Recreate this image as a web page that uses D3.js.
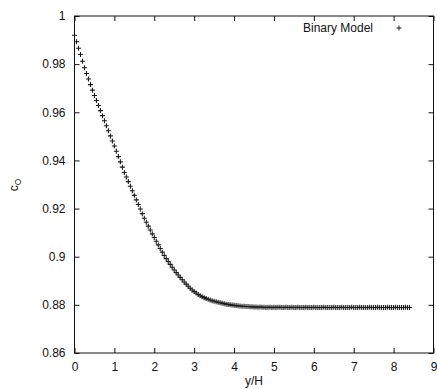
<!DOCTYPE html>
<html>
<head>
<meta charset="utf-8">
<script src="https://cdn.jsdelivr.net/npm/d3@7"></script>
<style>
  body { margin: 0; background: #fff; }
  text { font-family: "Liberation Sans", Arial, sans-serif; fill: #111; }
</style>
</head>
<body>
<div id="chart"></div>
<script>
// sampled profile, step of 0.05 in y/H
var xStep = 0.05;
var cValues = [
  0.9920, 0.9893, 0.9866, 0.9840, 0.9812, 0.9785, 0.9761, 0.9738, 0.9715, 0.9692,
  0.9670, 0.9649, 0.9628, 0.9607, 0.9586, 0.9565, 0.9544, 0.9523, 0.9502, 0.9481,
  0.9460, 0.9438, 0.9416, 0.9394, 0.9372, 0.9350, 0.9331, 0.9312, 0.9293, 0.9274,
  0.9255, 0.9236, 0.9217, 0.9198, 0.9179, 0.9160, 0.9143, 0.9127, 0.9111, 0.9095,
  0.9080, 0.9064, 0.9049, 0.9034, 0.9019, 0.9005, 0.8992, 0.8980, 0.8968, 0.8956,
  0.8945, 0.8934, 0.8924, 0.8914, 0.8904, 0.8895, 0.8886, 0.8877, 0.8869, 0.8862,
  0.8855, 0.8849, 0.8843, 0.8838, 0.8834, 0.8830, 0.8826, 0.8823, 0.8820, 0.8817,
  0.8815, 0.8813, 0.8811, 0.8809, 0.8807, 0.8805, 0.8803, 0.8802, 0.8800, 0.8799,
  0.8798, 0.8797, 0.8796, 0.8795, 0.8794, 0.8794, 0.8793, 0.8793, 0.8792, 0.8792,
  0.8791, 0.8791, 0.8790, 0.8791, 0.8790, 0.8790, 0.8789, 0.8790, 0.8790, 0.8789,
  0.8790, 0.8789, 0.8790, 0.8790, 0.8789, 0.8789, 0.8790, 0.8789, 0.8789, 0.8790,
  0.8789, 0.8789, 0.8790, 0.8789, 0.8789, 0.8789, 0.8790, 0.8789, 0.8789, 0.8789,
  0.8790, 0.8789, 0.8789, 0.8789, 0.8789, 0.8790, 0.8789, 0.8789, 0.8789, 0.8789,
  0.8790, 0.8789, 0.8789, 0.8789, 0.8790, 0.8789, 0.8789, 0.8789, 0.8789, 0.8790,
  0.8789, 0.8789, 0.8789, 0.8790, 0.8789, 0.8789, 0.8789, 0.8789, 0.8790, 0.8789,
  0.8789, 0.8789, 0.8790, 0.8789, 0.8789, 0.8789, 0.8789, 0.8790, 0.8789, 0.8789,
  0.8789, 0.8790, 0.8789, 0.8789, 0.8789, 0.8789, 0.8790, 0.8789, 0.8789
];
var xTicks = [0, 1, 2, 3, 4, 5, 6, 7, 8, 9];
var yTicks = [0.86, 0.88, 0.9, 0.92, 0.94, 0.96, 0.98, 1];
var legendLabel = "Binary Model";

var width = 437, height = 389;
var margin = {top: 16, right: 3.5, bottom: 36, left: 74.5};

var svg = d3.select("#chart").append("svg")
    .attr("width", width)
    .attr("height", height);

var x = d3.scaleLinear().domain([0, 9]).range([margin.left, width - margin.right]);
var y = d3.scaleLinear().domain([0.86, 1]).range([height - margin.bottom, margin.top]);

var points = cValues.map(function(v, i) { return {x: i * xStep, c: v}; });

var tickLen = 5;

// bottom + top axes (inward ticks)
svg.append("g")
    .attr("transform", "translate(0," + y(0.86) + ")")
    .call(d3.axisBottom(x).tickValues(xTicks).tickSize(-tickLen).tickPadding(9).tickFormat(d3.format("d")))
    .call(function(g) {
        g.select(".domain").remove();
        g.selectAll("text").style("font-size", "12px").attr("fill", "#111");
    });
svg.append("g")
    .attr("transform", "translate(0," + y(1) + ")")
    .call(d3.axisTop(x).tickValues(xTicks).tickSize(-tickLen).tickFormat(""))
    .call(function(g) { g.select(".domain").remove(); });

// left + right axes
svg.append("g")
    .attr("transform", "translate(" + x(0) + ",0)")
    .call(d3.axisLeft(y).tickValues(yTicks).tickSize(-tickLen).tickPadding(9).tickFormat(function(d) { return d3.format("")(+d.toFixed(2)); }))
    .call(function(g) {
        g.select(".domain").remove();
        g.selectAll("text").style("font-size", "12px").attr("fill", "#111");
    });
svg.append("g")
    .attr("transform", "translate(" + x(9) + ",0)")
    .call(d3.axisRight(y).tickValues(yTicks).tickSize(-tickLen).tickFormat(""))
    .call(function(g) { g.select(".domain").remove(); });

svg.selectAll(".tick line").attr("stroke", "#111");

// frame
svg.append("rect")
    .attr("x", x(0)).attr("y", y(1))
    .attr("width", x(9) - x(0)).attr("height", y(0.86) - y(1))
    .attr("fill", "none").attr("stroke", "#111").attr("stroke-width", 1);

// markers
var s = 2.5;
svg.append("g").selectAll("path")
    .data(points)
    .join("path")
    .attr("d", function(d) {
        var px = x(d.x), py = y(d.c);
        return "M" + (px - s) + "," + py + "H" + (px + s) + "M" + px + "," + (py - s) + "V" + (py + s);
    })
    .attr("stroke", "#1a1a1a")
    .attr("stroke-width", 1.1)
    .attr("fill", "none");

// legend
svg.append("text")
    .attr("x", 373).attr("y", 32)
    .attr("text-anchor", "end")
    .style("font-size", "12px")
    .text(legendLabel);
svg.append("path")
    .attr("d", "M" + (399 - s) + ",28H" + (399 + s) + "M399," + (28 - s) + "V" + (28 + s))
    .attr("stroke", "#222").attr("fill", "none");

// axis titles
svg.append("text")
    .attr("x", (x(0) + x(9)) / 2).attr("y", 385)
    .attr("text-anchor", "middle")
    .style("font-size", "12px")
    .text("y/H");

var yl = svg.append("text")
    .attr("transform", "translate(18,185) rotate(-90)")
    .attr("text-anchor", "middle")
    .style("font-size", "12px");
yl.append("tspan").text("c");
yl.append("tspan").attr("dy", 3).style("font-size", "8.5px").text("O");
</script>
</body>
</html>
